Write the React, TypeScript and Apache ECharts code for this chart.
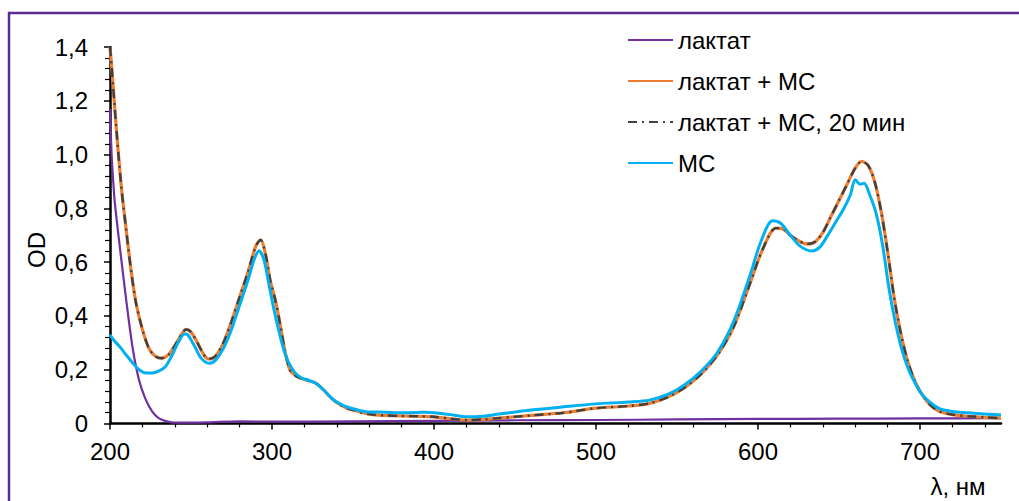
import React, { useEffect, useRef } from "react";
import * as echarts from "echarts";

// λ (нм) and OD values
const lactateX = [200, 201, 202, 203, 206, 210, 214, 218, 222, 226, 230, 235, 240, 250, 260, 280, 300, 350, 400, 450, 500, 550, 600, 650, 700, 750];
const lactateY = [1.17, 1.0, 0.9, 0.82, 0.66, 0.46, 0.28, 0.16, 0.09, 0.045, 0.02, 0.008, 0.003, 0.003, 0.004, 0.008, 0.007, 0.008, 0.01, 0.012, 0.013, 0.015, 0.017, 0.018, 0.019, 0.02];

const lactateMCX = [200, 201, 202, 204, 207, 210, 213, 216, 220, 224, 228, 232, 236, 240, 244, 247, 250, 254, 258, 261, 265, 270, 275, 280, 285, 290, 293, 296, 299, 302, 305, 308, 311, 314, 317, 322, 327, 331, 335, 338, 342, 346, 350, 360, 370, 380, 390, 400, 410, 420, 430, 440, 460, 480, 500, 520, 533, 545, 555, 565, 575, 585, 595, 603, 611, 615, 620, 625, 630, 635, 640, 645, 650, 655, 660, 664, 668, 672, 676, 680, 684, 688, 692, 696, 700, 704, 708, 712, 720, 730, 740, 750];
const lactateMCY = [1.4, 1.33, 1.25, 1.09, 0.88, 0.72, 0.57, 0.45, 0.35, 0.28, 0.25, 0.243, 0.255, 0.29, 0.33, 0.35, 0.34, 0.3, 0.255, 0.24, 0.25, 0.3, 0.38, 0.47, 0.56, 0.66, 0.683, 0.63, 0.53, 0.46, 0.37, 0.27, 0.2, 0.18, 0.17, 0.16, 0.15, 0.13, 0.105, 0.087, 0.07, 0.058, 0.05, 0.035, 0.03, 0.028, 0.027, 0.025, 0.018, 0.013, 0.015, 0.02, 0.03, 0.04, 0.057, 0.065, 0.075, 0.1, 0.135, 0.185, 0.255, 0.36, 0.52, 0.65, 0.727, 0.725, 0.7, 0.68, 0.668, 0.675, 0.71, 0.77, 0.83, 0.89, 0.95, 0.975, 0.96, 0.9, 0.79, 0.64, 0.47, 0.34, 0.24, 0.17, 0.12, 0.085, 0.06, 0.045, 0.033, 0.027, 0.023, 0.02];

const lactateMC20X = [200, 201, 202, 204, 207, 210, 213, 216, 220, 224, 228, 232, 236, 240, 244, 247, 250, 254, 258, 261, 265, 270, 275, 280, 285, 290, 293, 296, 299, 302, 305, 308, 311, 314, 317, 322, 327, 331, 335, 338, 342, 346, 350, 360, 370, 380, 390, 400, 410, 420, 430, 440, 460, 480, 500, 520, 533, 545, 555, 565, 575, 585, 595, 603, 611, 615, 620, 625, 630, 635, 640, 645, 650, 655, 660, 664, 668, 672, 676, 680, 684, 688, 692, 696, 700, 704, 708, 712, 720, 730, 740, 750];
const lactateMC20Y = [1.4, 1.33, 1.25, 1.09, 0.88, 0.72, 0.57, 0.45, 0.35, 0.28, 0.25, 0.243, 0.255, 0.29, 0.33, 0.35, 0.34, 0.3, 0.255, 0.24, 0.25, 0.3, 0.38, 0.47, 0.56, 0.66, 0.683, 0.63, 0.53, 0.46, 0.37, 0.27, 0.2, 0.18, 0.17, 0.16, 0.15, 0.13, 0.105, 0.087, 0.07, 0.058, 0.05, 0.035, 0.03, 0.028, 0.027, 0.025, 0.018, 0.013, 0.015, 0.02, 0.03, 0.04, 0.057, 0.065, 0.075, 0.1, 0.135, 0.185, 0.255, 0.36, 0.52, 0.65, 0.727, 0.725, 0.7, 0.68, 0.668, 0.675, 0.71, 0.77, 0.83, 0.89, 0.95, 0.975, 0.96, 0.9, 0.79, 0.64, 0.47, 0.34, 0.24, 0.17, 0.12, 0.085, 0.06, 0.045, 0.033, 0.027, 0.023, 0.02];

const mcX = [200, 203, 206, 210, 214, 218, 222, 226, 230, 234, 238, 242, 246, 248, 252, 256, 261, 265, 270, 275, 280, 285, 289, 292, 295, 298, 301, 304, 307, 310, 314, 318, 323, 327, 331, 335, 340, 345, 350, 358, 370, 380, 390, 395, 400, 410, 420, 430, 440, 460, 480, 500, 520, 533, 545, 555, 565, 575, 585, 595, 602, 609, 614, 620, 626, 633, 638, 643, 648, 653, 657, 660, 663, 665.5, 669, 673, 677, 681, 685, 689, 693, 697, 701, 705, 712, 720, 730, 740, 750];
const mcY = [0.33, 0.305, 0.286, 0.255, 0.225, 0.2, 0.188, 0.188, 0.195, 0.21, 0.25, 0.3, 0.333, 0.33, 0.29, 0.245, 0.224, 0.235, 0.28, 0.35, 0.44, 0.53, 0.61, 0.643, 0.61, 0.52, 0.43, 0.35, 0.28, 0.23, 0.19, 0.17, 0.16, 0.15, 0.13, 0.105, 0.08, 0.065, 0.055, 0.044, 0.042, 0.04, 0.041, 0.042, 0.04, 0.033, 0.025, 0.027, 0.035, 0.05, 0.062, 0.073, 0.08, 0.087, 0.11, 0.145, 0.195, 0.265, 0.38, 0.55, 0.68, 0.754, 0.745, 0.7, 0.66, 0.642, 0.655, 0.7, 0.75, 0.8, 0.85, 0.907, 0.89, 0.894, 0.85, 0.78, 0.66, 0.497, 0.37, 0.27, 0.2, 0.15, 0.11, 0.085, 0.055, 0.045, 0.04, 0.035, 0.032];

const seriesNames = ["лактат", "лактат + МС", "лактат + МС, 20 мин", "МС"];
const xMajorTicks = [200, 300, 400, 500, 600, 700];
const xMinorTicks = [220, 240, 260, 280, 320, 340, 360, 380, 420, 440, 460, 480, 520, 540, 560, 580, 620, 640, 660, 680, 720, 740];

const pairs = (xs: number[], ys: number[]) => xs.map((x, i) => [x, ys[i]]);

export default function App() {
  const ref = useRef<HTMLDivElement>(null);
  useEffect(() => {
    if (!ref.current) return;
    const chart = echarts.init(ref.current, null, { renderer: "svg" });
    const font = "'Liberation Sans', Arial, sans-serif";
    chart.setOption({
      animation: false,
      backgroundColor: "#ffffff",
      grid: { left: 110, right: 18, top: 47.2, bottom: 77.5, containLabel: false },
      legend: {
        orient: "vertical",
        left: 622,
        top: 23,
        padding: 5,
        itemWidth: 45,
        itemHeight: 14,
        itemGap: 17,
        itemStyle: { color: "transparent", borderColor: "transparent", borderWidth: 0, opacity: 0 },
        textStyle: { fontSize: 24, fontFamily: font, color: "#000" },
        data: seriesNames,
      },
      xAxis: [
        {
          type: "value",
          min: 200,
          max: 750,
          interval: 100,
          axisLine: { show: true, lineStyle: { color: "#000", width: 2.5 } },
          axisTick: { show: true, length: 6, customValues: xMajorTicks, lineStyle: { color: "#000", width: 1.5 } },
          axisLabel: { customValues: xMajorTicks, fontSize: 24, fontFamily: font, color: "#000", margin: 16 },
          splitLine: { show: false },
        },
        {
          type: "value",
          min: 200,
          max: 750,
          interval: 100,
          position: "bottom",
          axisLine: { show: false },
          axisTick: { show: true, length: 4, customValues: xMinorTicks, lineStyle: { color: "#000", width: 1.2 } },
          axisLabel: { show: false },
          splitLine: { show: false },
        },
      ],
      yAxis: {
        type: "value",
        min: 0,
        max: 1.4,
        interval: 0.2,
        axisLine: { show: true, lineStyle: { color: "#000", width: 2.5 } },
        axisTick: { show: true, length: 6, lineStyle: { color: "#000", width: 1.5 } },
        minorTick: { show: true, splitNumber: 5, length: 5, lineStyle: { color: "#000", width: 1.2 } },
        axisLabel: {
          fontSize: 24,
          fontFamily: font,
          color: "#000",
          margin: 22,
          formatter: (v: number) => (v === 0 ? "0" : v.toFixed(1).replace(".", ",")),
        },
        splitLine: { show: false },
      },
      graphic: [
        {
          type: "rect",
          silent: true,
          z: -10,
          shape: { x: 9, y: 13, width: 1300, height: 800 },
          style: { fill: "none", stroke: "#5b2a8f", lineWidth: 2.5 },
        },
        {
          type: "text",
          x: 36,
          y: 250,
          rotation: Math.PI / 2,
          style: { text: "OD", fontSize: 24, fontFamily: font, fill: "#000", align: "center", verticalAlign: "middle" },
        },
        {
          type: "text",
          x: 958,
          y: 486,
          style: { text: "λ, нм", fontSize: 24, fontFamily: font, fill: "#000", align: "center", verticalAlign: "middle" },
        },
      ],
      series: [
        {
          name: seriesNames[0],
          type: "line",
          data: pairs(lactateX, lactateY),
          smooth: 0.3,
          symbol: "none",
          lineStyle: { color: "#7030a0", width: 2.2 },
          itemStyle: { color: "#7030a0" },
          z: 2,
        },
        {
          name: seriesNames[1],
          type: "line",
          data: pairs(lactateMCX, lactateMCY),
          smooth: 0.3,
          symbol: "none",
          lineStyle: { color: "#ed7d31", width: 3.2 },
          itemStyle: { color: "#ed7d31" },
          z: 3,
        },
        {
          name: seriesNames[2],
          type: "line",
          data: pairs(lactateMC20X, lactateMC20Y),
          smooth: 0.3,
          symbol: "none",
          lineStyle: { color: "#404040", width: 2.4, type: [9, 5, 2, 5] },
          itemStyle: { color: "#404040" },
          z: 4,
        },
        {
          name: seriesNames[3],
          type: "line",
          data: pairs(mcX, mcY),
          smooth: 0.3,
          symbol: "none",
          lineStyle: { color: "#00b0f0", width: 3 },
          itemStyle: { color: "#00b0f0" },
          z: 5,
        },
      ],
    });
    return () => chart.dispose();
  }, []);
  return (
    <div
      ref={ref}
      style={{ position: "fixed", left: 0, top: 0, width: 1019, height: 501, background: "#fff" }}
    />
  );
}
